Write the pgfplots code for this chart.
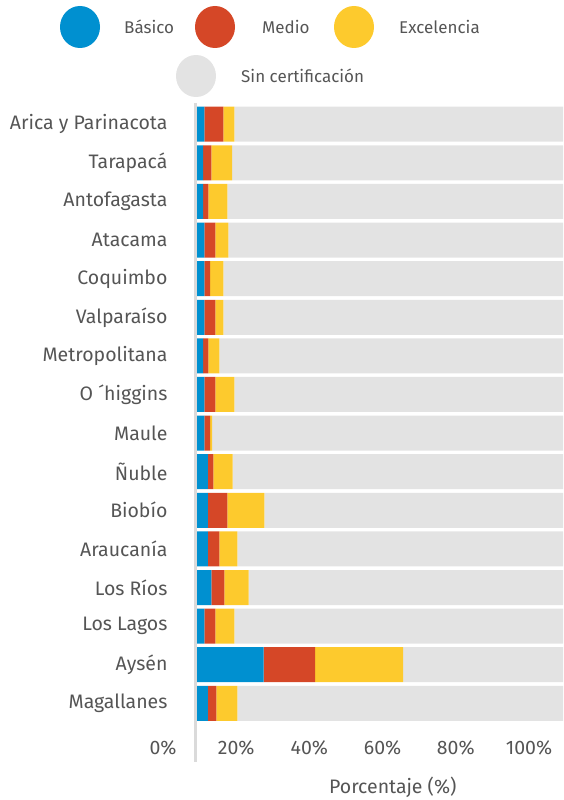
\documentclass[border=0pt]{standalone}
\usepackage{fontspec}
\setmainfont{Fira Sans}
\usepackage{pgfplots}
\usepackage{pgfplotstable}
\pgfplotsset{compat=1.18}
\definecolor{cblue}{RGB}{0,144,208}
\definecolor{cred}{RGB}{213,71,39}
\definecolor{cyel}{RGB}{253,202,45}
\definecolor{cgray}{RGB}{227,227,227}
\definecolor{axgray}{RGB}{218,218,218}
\definecolor{txt}{RGB}{85,85,85}

% idx: 0 = Arica y Parinacota ... 15 = Magallanes
\pgfplotstableread{
idx basico medio excel sin
0  2.0  5.2  3.0  89.8
1  1.7  2.2  5.7  90.4
2  1.7  1.4  5.2  91.7
3  2.0  3.0  3.6  91.4
4  2.0  1.6  3.6  92.8
5  2.0  3.0  2.2  92.8
6  1.7  1.4  3.0  93.9
7  2.0  3.0  5.2  89.8
8  2.0  1.6  0.55 95.85
9  3.0  1.5  5.2  90.3
10 3.0  5.3  10.1 81.6
11 3.0  3.1  4.9  89.0
12 3.9  3.6  6.6  85.9
13 2.0  3.0  5.2  89.8
14 18.2 14.1 24.0 43.7
15 3.0  2.3  5.7  89.0
}\datos

\newcommand{\lab}{\fontsize{19.5}{22}\selectfont}
\newcommand{\leg}{\fontsize{17}{20}\selectfont}

\begin{document}
\begin{tikzpicture}
\begin{axis}[
  at={(197pt,-762pt)}, anchor=south west,
  scale only axis, width=366pt, height=659pt,
  xbar stacked, bar width=35pt,
  xmin=0, xmax=100, ymin=-0.55, ymax=16.52, y dir=reverse,
  axis line style={draw=none},
  major tick length=0pt,
  ytick={0,...,15},
  yticklabels={Arica y Parinacota,Tarapacá,Antofagasta,Atacama,Coquimbo,Valparaíso,Metropolitana,O ´higgins,Maule,Ñuble,Biobío,Araucanía,Los Ríos,Los Lagos,Aysén,Magallanes},
  yticklabel style={anchor=east, xshift=-26pt, font=\lab, text=txt},
  xtick={0,20,...,100},
  xticklabels={0\%,20\%,40\%,60\%,80\%,100\%},
  xticklabel style={anchor=center, yshift=14pt, xshift=-34pt, font=\lab, text=txt},
  xlabel={Porcentaje (\%)},
  xlabel style={at={(axis description cs:0.535,0)}, anchor=center, yshift=-25pt, font=\lab, text=txt},
  clip=false,
]
\addplot[fill=cblue, draw=none] table[x=basico, y=idx]{\datos};
\addplot[fill=cred, draw=none] table[x=medio, y=idx]{\datos};
\addplot[fill=cyel, draw=none] table[x=excel, y=idx]{\datos};
\addplot[fill=cgray, draw=none] table[x=sin, y=idx]{\datos};
\draw[axgray, line width=3pt] ([xshift=-1.5pt]axis cs:0,-0.55) -- ([xshift=-1.5pt]axis cs:0,16.52);
\end{axis}
% legend
\fill[cblue] (80pt,-27pt) ellipse [x radius=20pt, y radius=21pt];
\fill[cred] (215pt,-27pt) ellipse [x radius=20pt, y radius=21pt];
\fill[cyel] (354pt,-27pt) ellipse [x radius=20pt, y radius=21pt];
\fill[cgray] (196pt,-76pt) ellipse [x radius=20pt, y radius=21pt];
\node[anchor=west, inner sep=0pt, text=txt, font=\leg] at (124pt,-27pt) {Básico};
\node[anchor=west, inner sep=0pt, text=txt, font=\leg] at (262pt,-27pt) {Medio};
\node[anchor=west, inner sep=0pt, text=txt, font=\leg] at (399pt,-27pt) {Excelencia};
\node[anchor=west, inner sep=0pt, text=txt, font=\leg] at (241pt,-76pt) {Sin certificación};
\pgfresetboundingbox
\useasboundingbox (0pt,0pt) rectangle (563pt,-800pt);
\end{tikzpicture}
\end{document}
